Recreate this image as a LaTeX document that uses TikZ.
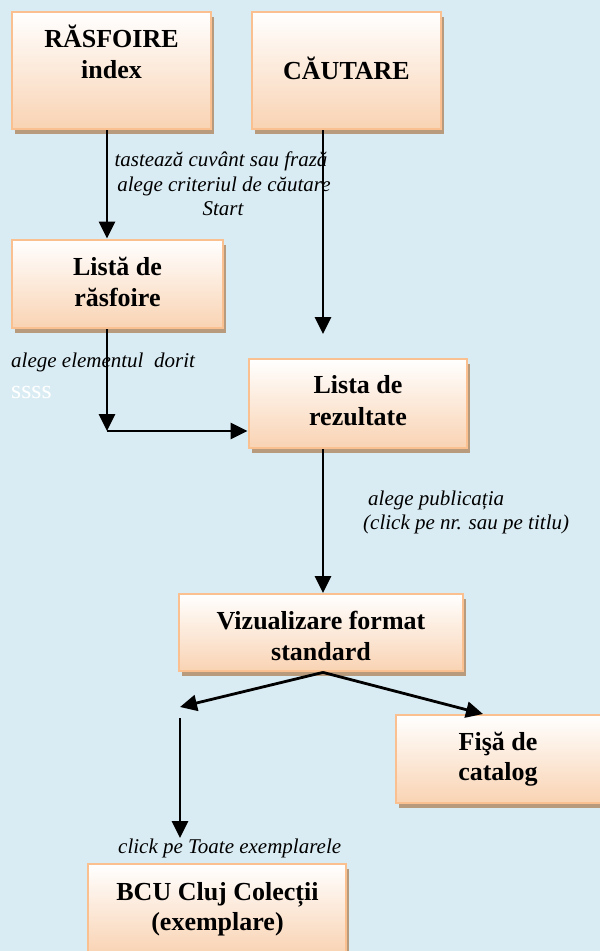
\documentclass[tikz,border=0pt]{standalone}
\usepackage{fontspec}
\setmainfont{Liberation Serif}
\usetikzlibrary{arrows.meta,shadows}
\definecolor{bg}{HTML}{DAECF3}
\definecolor{peach}{HTML}{F9D3B3}
\definecolor{bord}{HTML}{FAC08F}
\definecolor{shad}{HTML}{B89A7C}
\begin{document}
\begin{tikzpicture}[x=1pt,y=-1pt,
  box/.style={draw=bord, line width=2.8pt, top color=white, bottom color=peach, inner sep=0pt,
    drop shadow={shadow xshift=3pt, shadow yshift=-5pt, fill=shad, opacity=1}},
  btext/.style={font=\fontsize{26}{30}\selectfont\bfseries, anchor=base, inner sep=0pt},
  itext/.style={font=\fontsize{21}{25}\selectfont\itshape, anchor=base, inner sep=0pt},
  arr/.style={line width=2.8pt, -{Triangle[length=17pt,width=16pt]}}]
\fill[bg] (0,0) rectangle (600,951);
\useasboundingbox (0,0) rectangle (600,951);

% boxes
\node[box, minimum width=199pt, minimum height=117pt] (b1) at (111.5,70.5) {};
\node[box, minimum width=189pt, minimum height=117pt] (b2) at (346.5,70.5) {};
\node[box, minimum width=211pt, minimum height=88pt] (b3) at (117.5,284) {};
\node[box, minimum width=218pt, minimum height=89pt] (b4) at (358,403.5) {};
\node[box, minimum width=284pt, minimum height=77pt] (b5) at (321,632.5) {};
\node[box, minimum width=208pt, minimum height=88pt] (b6) at (500,759) {};
\node[box, minimum width=258pt, minimum height=90pt] (b7) at (217,909) {};

% box texts
\node[btext] (t1a) at (111.5,47) {RĂSFOIRE};
\node[btext] (t1b) at (111.5,78) {index};
\node[btext] (t2) at (346.5,79) {CĂUTARE};
\node[btext] (t3a) at (117.5,275) {Listă de};
\node[btext] (t3b) at (117.5,306) {răsfoire};
\node[btext] (t4a) at (358,393) {Lista de};
\node[btext] (t4b) at (358,425) {rezultate};
\node[btext] (t5a) at (321,629) {Vizualizare format};
\node[btext] (t5b) at (321,660) {standard};
\node[btext] (t6a) at (498,750) {Fişă de};
\node[btext] (t6b) at (498,780) {catalog};
\node[btext] (t7a) at (217.5,900) {BCU Cluj Colecții};
\node[btext] (t7b) at (217.5,930) {(exemplare)};

% labels
\node[itext] (l1a) at (221,166) {tastează cuvânt sau frază};
\node[itext] (l1b) at (224,191) {alege criteriul de căutare};
\node[itext] (l1c) at (223,215) {Start};
\node[itext, anchor=base west] (l2) at (11,367) {alege elementul\ \ dorit};
\node[font=\fontsize{26}{30}\selectfont, text=white, anchor=base west, inner sep=0pt] (l3) at (11,398) {ssss};
\node[itext, anchor=base west] (l4a) at (368,505) {alege publicația};
\node[itext, anchor=base west] (l4b) at (363,529) {(click pe nr. sau pe titlu)};
\node[itext, anchor=base west] (l5) at (118,853) {click pe Toate exemplarele};

% coordinates
\coordinate (c2) at (323,334);
\coordinate (k) at (107,431);
\coordinate (v) at (323,593);
\coordinate (L) at (180,707);
\coordinate (R) at (483,714);
\coordinate (d1) at (180,718);
\coordinate (d2) at (180,838);

% connectors
\draw[arr] ([xshift=-4.5pt]b1.south) -- ([xshift=-4.5pt]b1.south |- b3.north);
\draw[arr] (b2.south -| c2) -- (c2);
\draw[arr] (b3.south -| k) -- (k);
\draw[arr] (k) -- (k -| b4.west);
\draw[arr] (b4.south -| v) -- (v);
\draw[arr] ([xshift=2pt]b5.south) -- (L);
\draw[arr] ([xshift=2pt]b5.south) -- (R);
\draw[arr] (d1) -- (d2);
\end{tikzpicture}
\end{document}
